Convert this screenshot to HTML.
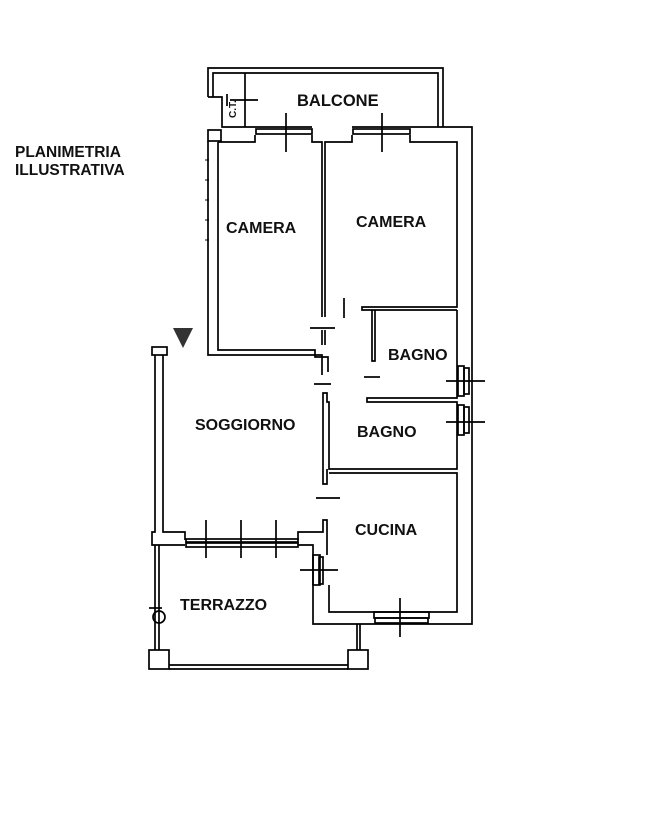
<!DOCTYPE html>
<html><head><style>
body{margin:0;background:#fff;}
svg{display:block}
text{font-family:"Liberation Sans",Arial,sans-serif;font-weight:bold;fill:#111}
</style></head><body>
<svg width="659" height="827" viewBox="0 0 659 827" xmlns="http://www.w3.org/2000/svg">
<g fill="none" stroke="#000" stroke-width="1.7">
<!-- balcony -->
<polyline points="208,97 208,68 443,68 443,127"/>
<polyline points="213,97 213,73 438,73 438,127"/>
<line x1="245" y1="73" x2="245" y2="127"/>
<polyline points="208,97 222,97 222,127 255,127"/>
<rect x="208" y="130" width="13" height="11"/>
<!-- top wall -->
<polyline points="255,127 312,127"/>
<polyline points="352,127 410,127"/>
<polyline points="410,127 472,127 472,624 329,624"/>
<polyline points="218,142 255,142 255,135"/>
<polyline points="312,135 312,142 322,142 322,317"/>
<polyline points="352,135 352,142 325,142 325,317"/>
<polyline points="410,135 410,142 457,142 457,307 362,307 362,310 457,310"/>
<rect x="256" y="129" width="56" height="5"/>
<rect x="353" y="129" width="57" height="5"/>
<line x1="286" y1="113" x2="286" y2="152"/>
<line x1="382" y1="113" x2="382" y2="152"/>
<line x1="230" y1="100" x2="258" y2="100"/>
<line x1="227" y1="94" x2="227" y2="106"/>
<!-- camera1 left -->
<polyline points="208,141 208,355 322,355 322,375"/>
<polyline points="218,142 218,350 315,350 315,357 328,357 328,372"/>
<line x1="322" y1="330" x2="322" y2="345"/><line x1="325" y1="330" x2="325" y2="345"/>
<line x1="310" y1="328" x2="335" y2="328"/>
<line x1="344" y1="298" x2="344" y2="318"/>
<!-- bagno1 -->
<polyline points="372,310 372,361 375,361 375,310"/>
<line x1="364" y1="377" x2="380" y2="377"/>
<line x1="314" y1="384" x2="331" y2="384"/>
<polyline points="457,310 457,398 367,398 367,402 457,402 457,469 329,469 329,402 327,402 327,393 323,393 323,484 327,484 327,469"/>
<polyline points="329,473 457,473 457,612 329,612 329,585"/>
<line x1="316" y1="498" x2="340" y2="498"/>
<!-- side windows on right -->
<rect x="458" y="366" width="6" height="30"/><rect x="464" y="368" width="5" height="26"/>
<rect x="458" y="405" width="6" height="30"/><rect x="464" y="407" width="5" height="26"/>
<line x1="446" y1="381" x2="485" y2="381"/><line x1="446" y1="422" x2="485" y2="422"/>
<!-- soggiorno -->
<rect x="152" y="347" width="15" height="8"/>
<polyline points="155,355 155,532 152,532 152,545 185,545"/>
<polyline points="163,355 163,532 185,532 185,540"/>
<polyline points="298,540 298,532 323,532 323,520 327,520 327,555"/>
<rect x="186" y="539" width="112" height="3"/>
<rect x="186" y="543" width="112" height="4"/>
<line x1="206" y1="520" x2="206" y2="558"/><line x1="241" y1="520" x2="241" y2="558"/><line x1="276" y1="520" x2="276" y2="558"/>
<polyline points="298,545 313,545 313,624 329,624"/>
<rect x="313" y="555" width="7" height="30"/><rect x="319" y="557" width="4" height="27"/>
<line x1="300" y1="570" x2="338" y2="570"/>
<rect x="374" y="612" width="55" height="6"/><rect x="375" y="618" width="53" height="5"/>
<line x1="400" y1="598" x2="400" y2="637"/>
<!-- terrazzo -->
<line x1="155" y1="545" x2="155" y2="650"/><line x1="159" y1="545" x2="159" y2="650"/>
<circle cx="159" cy="617" r="6"/>
<line x1="149" y1="608" x2="162" y2="608"/>
<line x1="357" y1="624" x2="357" y2="650"/><line x1="360" y1="624" x2="360" y2="650"/>
<rect x="149" y="650" width="20" height="19"/>
<rect x="348" y="650" width="20" height="19"/>
<line x1="169" y1="665" x2="348" y2="665"/><line x1="169" y1="669" x2="348" y2="669"/>
</g>
<polygon points="173,328 193,328 183,348" fill="#333"/>
<g stroke="#000" stroke-width="1">
<line x1="205" y1="160" x2="209" y2="160"/><line x1="205" y1="180" x2="209" y2="180"/><line x1="205" y1="200" x2="209" y2="200"/><line x1="205" y1="220" x2="209" y2="220"/><line x1="205" y1="240" x2="209" y2="240"/>
</g>
<text x="15" y="157" font-size="15.5">PLANIMETRIA</text>
<text x="15" y="175" font-size="15.5">ILLUSTRATIVA</text>
<text x="297" y="106" font-size="16.5">BALCONE</text>
<text x="226" y="233" font-size="16">CAMERA</text>
<text x="356" y="227" font-size="16">CAMERA</text>
<text x="388" y="360" font-size="16">BAGNO</text>
<text x="357" y="437" font-size="16">BAGNO</text>
<text x="195" y="430" font-size="16">SOGGIORNO</text>
<text x="355" y="535" font-size="16">CUCINA</text>
<text x="180" y="610" font-size="16">TERRAZZO</text>
<text x="0" y="0" font-size="10" font-weight="normal" transform="translate(236,118) rotate(-90)">C.T.</text>
</svg>
</body></html>
